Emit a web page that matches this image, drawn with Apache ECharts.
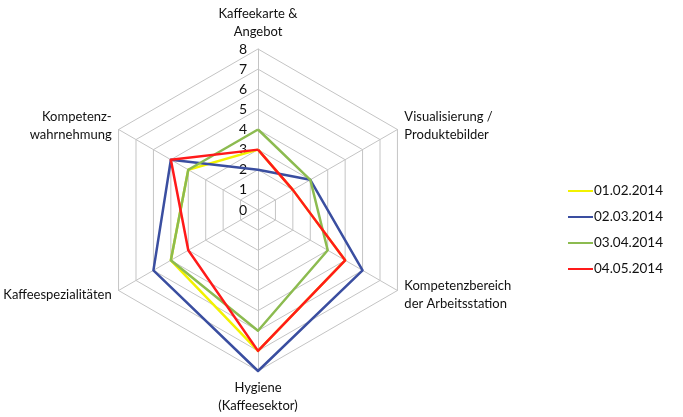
<!DOCTYPE html>
<html>
<head>
<meta charset="utf-8">
<script src="https://cdn.jsdelivr.net/npm/echarts@6/dist/echarts.min.js"></script>
<style>
html,body{margin:0;padding:0;background:#fff;}
#chart{width:683px;height:417px;}
</style>
</head>
<body>
<div id="chart"></div>
<script>
// Indicators in clockwise order as in the reference (top first)
const categories = [
  'Kaffeekarte &\nAngebot',
  'Visualisierung /\nProduktebilder',
  'Kompetenzbereich\nder Arbeitsstation',
  'Hygiene\n(Kaffeesektor)',
  'Kaffeespezialitäten',
  'Kompetenz-\nwahrnehmung'
];
const seriesNames = ['01.02.2014', '02.03.2014', '03.04.2014', '04.05.2014'];
const values0102 = [3, 2, 5, 7, 5, 4];
const values0203 = [2, 3, 6, 8, 6, 5];
const values0304 = [4, 3, 4, 6, 5, 4];
const values0405 = [3, 2, 5, 7, 4, 5];
const maxValue = 8;
const colors = ['#f2f200', '#3a4ea0', '#8cbb50', '#ff1a1a'];

// ECharts places indicators counter-clockwise; reorder to get clockwise layout
const order = [0, 5, 4, 3, 2, 1];
const reorder = arr => order.map(i => arr[i]);

const indicator = reorder(categories).map((name, k) => {
  const o = { name: name, max: maxValue, min: 0 };
  if (k === 0) o.axisLabel = { show: true };
  return o;
});

const allValues = [values0102, values0203, values0304, values0405];

const chart = echarts.init(document.getElementById('chart'));
chart.setOption({
  animation: false,
  color: colors,
  legend: {
    orient: 'vertical',
    left: 563,
    top: 179,
    icon: 'rect',
    itemWidth: 25,
    itemHeight: 2,
    itemGap: 12,
    textStyle: { fontFamily: 'Lato', fontSize: 13.5, color: '#111', padding: [0, 0, 0, -4] },
    data: seriesNames
  },
  radar: {
    center: [258, 210],
    radius: 161,
    startAngle: 90,
    splitNumber: 8,
    shape: 'polygon',
    nameGap: 8,
    axisName: { color: '#111', fontFamily: 'Lato', fontSize: 13, lineHeight: 18 },
    axisLine: { lineStyle: { color: '#c4c4c4', width: 1 } },
    splitLine: { lineStyle: { color: '#c4c4c4', width: 1 } },
    splitArea: { show: false },
    axisTick: { show: false },
    axisLabel: { show: false, color: '#111', fontFamily: 'Lato', fontSize: 14, margin: 11, interval: 0, showMinLabel: true, showMaxLabel: true },
    indicator: indicator
  },
  series: [{
    type: 'radar',
    symbol: 'none',
    lineStyle: { width: 2.5 },
    data: allValues.map((v, i) => ({
      name: seriesNames[i],
      value: reorder(v),
      lineStyle: { color: colors[i], width: 2.5 },
      itemStyle: { color: colors[i] }
    }))
  }]
});
</script>
</body>
</html>
